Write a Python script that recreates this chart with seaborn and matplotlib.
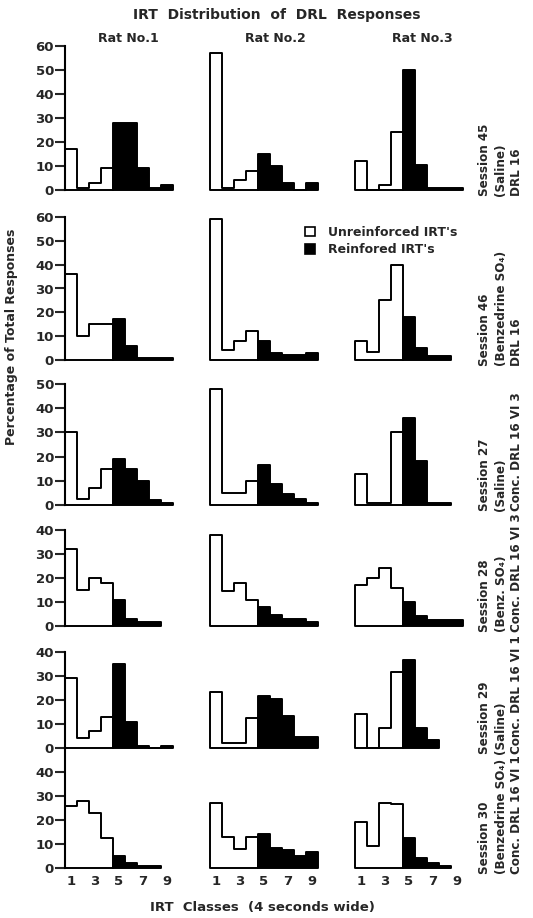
import numpy as np
import pandas as pd
import matplotlib
matplotlib.use("Agg")
import matplotlib.pyplot as plt
from matplotlib.patches import Patch
import seaborn as sns

sns.set_style("white")
plt.rcParams['font.family'] = ['DejaVu Sans']
plt.rcParams['font.weight'] = 'bold'

# IRT classes (4 s wide); classes 1-4 unreinforced, 5+ reinforced (DRL 16)
classes = [1, 2, 3, 4, 5, 6, 7, 8, 9]
reinforced_from = 5
rats = ["Rat No.1", "Rat No.2", "Rat No.3"]
xtick_labels = [1, 3, 5, 7, 9]

# percentage of total responses per IRT class, one list per rat
s45 = [[17, 1, 3, 9, 28, 28, 9, 1, 2],
       [57, 1, 4, 8, 15, 10, 3, 0, 3],
       [12, 0, 2, 24, 50, 10.5, 1, 1, 1]]
s46 = [[36, 10, 15, 15, 17, 6, 1, 1, 1],
       [59, 4, 8, 12, 8, 3, 2, 2, 3],
       [8, 3.5, 25, 40, 18, 5, 1.5, 1.5]]
s27 = [[30, 2.5, 7, 15, 19, 15, 10, 2, 1],
       [48, 5, 5, 10, 16.5, 8.5, 4.5, 2.5, 1],
       [13, 1, 1, 30, 36, 18, 1, 1]]
s28 = [[32, 15, 20, 18, 11, 3, 1.5, 1.5],
       [38, 14.5, 18, 11, 8, 4.5, 3, 3, 1.5],
       [17, 20, 24, 16, 10, 4, 2.5, 2.5, 2.5]]
s29 = [[29, 4, 7, 13, 35, 11, 1, 0, 1],
       [23.5, 2, 2, 12.5, 21.5, 20.5, 13.5, 4.5, 4.5],
       [14, 0, 8.5, 31.5, 36.5, 8.5, 3.5]]
s30 = [[26, 28, 23, 12.5, 5, 2, 1, 1],
       [27, 13, 8, 13, 14, 8.5, 7.5, 5, 6.5],
       [19, 9, 27, 26.5, 12.5, 4, 2, 1]]
sessions = [s45, s46, s27, s28, s29, s30]

session_labels = [("Session 45", "(Saline)", "DRL 16"),
                  ("Session 46", "(Benzedrine SO\u2084)", "DRL 16"),
                  ("Session 27", "(Saline)", "Conc. DRL 16 VI 3"),
                  ("Session 28", "(Benz. SO\u2084)", "Conc. DRL 16 VI 3"),
                  ("Session 29", "(Saline)", "Conc. DRL 16 VI 1"),
                  ("Session 30", "(Benzedrine SO\u2084)", "Conc. DRL 16 VI 1")]
y_top = [60, 60, 50, 40, 40, 50]
y_tick_top = [60, 60, 50, 40, 40, 40]

# layout in pixels
W, H = 533, 918
col_left = [65, 210, 355]
col_w = 108
row_top = [46, 217, 384, 530, 652, 748]
row_bot = [190, 360, 505, 626, 748, 868]

fig = plt.figure(figsize=(W / 100, H / 100), dpi=100)


def draw_panel(ax, vals):
    df = pd.DataFrame({"irt": classes[:len(vals)], "pct": vals})
    un = df[df["irt"] < reinforced_from]
    re = df[df["irt"] >= reinforced_from]
    sns.histplot(data=un, x="irt", weights="pct", discrete=True, element="step",
                 fill=True, facecolor="white", edgecolor="black", linewidth=1.4,
                 alpha=1, clip_on=False, ax=ax)
    sns.histplot(data=re, x="irt", weights="pct", discrete=True, element="step",
                 fill=True, facecolor="black", edgecolor="black", linewidth=1.4,
                 alpha=1, clip_on=False, ax=ax)


for r, sess in enumerate(sessions):
    for c, vals in enumerate(sess):
        rect = [col_left[c] / W, 1 - row_bot[r] / H, col_w / W,
                (row_bot[r] - row_top[r]) / H]
        ax = fig.add_axes(rect)
        ax.patch.set_alpha(0)
        draw_panel(ax, vals)
        ax.set_xlim(0.5, 9.5)
        ax.set_ylim(0, y_top[r])
        ax.set_xlabel("")
        ax.set_ylabel("")
        sns.despine(ax=ax, left=(c != 0), bottom=True)
        if c == 0:
            ax.spines["left"].set_linewidth(1.5)
            ax.spines["left"].set_color("black")
            ax.set_yticks(range(0, y_tick_top[r] + 1, 10))
            ax.tick_params(axis="y", left=True, length=7, width=1.5,
                           labelsize=9.5, pad=1)
        else:
            ax.set_yticks([])
        if r == len(sessions) - 1:
            ax.set_xticks(xtick_labels)
            ax.tick_params(axis="x", length=0, labelsize=9.5, pad=5)
        else:
            ax.set_xticks([])
    # right-hand session labels
    for x, txt in zip([485, 501, 517], session_labels[r]):
        fig.text(x / W, 1 - (row_bot[r] + 6) / H, txt, rotation=90,
                 ha="center", va="bottom", fontsize=9.5, fontweight="bold",
                 fontstretch="condensed")

fig.text(277 / W, 1 - 15 / H, "IRT  Distribution  of  DRL  Responses",
         ha="center", va="center", fontsize=10, fontweight="bold")
for x, name in zip([128, 275, 422], rats):
    fig.text(x / W, 1 - 38 / H, name, ha="center", va="center",
             fontsize=9, fontweight="bold")
fig.text(12 / W, 1 - 337 / H, "Percentage of Total Responses", rotation=90,
         ha="center", va="center", fontsize=9, fontweight="bold")
fig.text(262 / W, 1 - 907 / H, "IRT  Classes  (4 seconds wide)",
         ha="center", va="center", fontsize=9.5, fontweight="bold")

handles = [Patch(facecolor="white", edgecolor="black", linewidth=1.2),
           Patch(facecolor="black", edgecolor="black", linewidth=1.2)]
fig.legend(handles, ["Unreinforced IRT's", "Reinfored IRT's"], loc="upper left",
           bbox_to_anchor=(305 / W, 1 - 226 / H), frameon=False,
           handlelength=0.8, handleheight=0.8, handletextpad=1.0,
           labelspacing=0.35, borderpad=0, borderaxespad=0,
           prop={"size": 9, "weight": "bold"})

fig.savefig("out.png", dpi=100)
